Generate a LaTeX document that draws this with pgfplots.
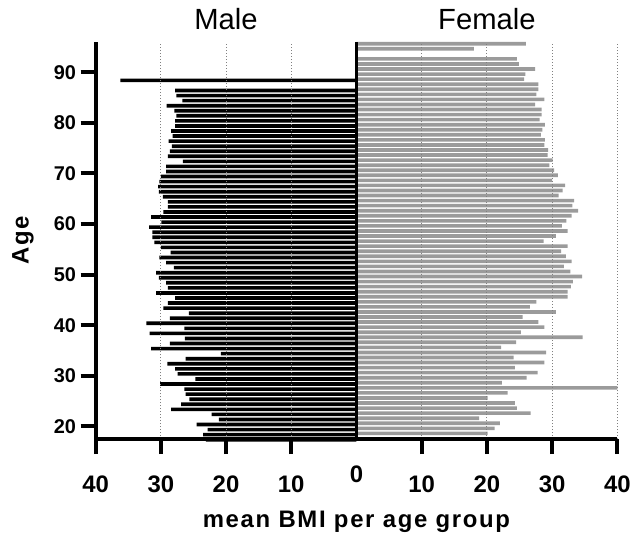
\documentclass[border=0pt]{standalone}
\usepackage{fontspec}
\setmainfont{Liberation Sans}
\usepackage{pgfplots}
\pgfplotsset{compat=1.18}
\usepackage{pgfplotstable}

\definecolor{fem}{RGB}{155,155,155}

% male values are negative so the bars run to the left
\pgfplotstableread{
age bmi
89 -36.2
87 -27.8
86 -27.6
85 -26.7
84 -29.1
83 -27.9
82 -27.6
81 -27.8
80 -27.8
79 -28.4
78 -28.2
77 -28.8
76 -28.3
75 -28.6
74 -28.9
73 -26.6
72 -29.2
71 -29.2
70 -30.0
69 -30.2
68 -30.4
67 -30.3
66 -29.7
65 -28.9
64 -28.9
63 -29.6
62 -31.5
61 -29.9
60 -31.8
59 -31.3
58 -31.3
57 -31.0
56 -30.0
55 -28.5
54 -30.2
53 -29.2
52 -28.0
51 -30.7
50 -30.3
49 -29.2
48 -28.9
47 -30.7
46 -27.8
45 -28.9
44 -29.6
43 -25.7
42 -28.6
41 -32.2
40 -26.4
39 -31.7
38 -26.3
37 -28.6
36 -31.5
35 -20.8
34 -26.2
33 -29.0
32 -27.8
31 -27.4
30 -24.7
29 -30.1
28 -26.4
27 -26.2
26 -25.6
25 -26.9
24 -28.4
23 -22.2
22 -21.1
21 -24.5
20 -22.8
19 -23.5
18 -23.1
}\male

\pgfplotstableread{
age bmi
95 26.0
94 18.0
92 24.6
91 24.9
90 27.4
89 25.9
88 25.7
87 27.9
86 27.9
85 27.6
84 28.8
83 27.4
82 28.4
81 28.4
80 28.1
79 28.9
78 28.5
77 28.3
76 28.9
75 28.8
74 29.4
73 29.3
72 30.1
71 29.6
70 30.3
69 30.9
68 30.0
67 32.0
66 31.6
65 31.0
64 33.4
63 33.1
62 34.0
61 33.0
60 32.2
59 31.5
58 32.4
57 30.6
56 28.7
55 32.4
54 31.4
53 32.1
52 33.0
51 31.8
50 32.8
49 34.6
48 33.2
47 32.9
46 32.4
45 32.4
44 27.6
43 26.6
42 30.6
41 25.5
40 27.9
39 28.8
38 25.2
37 34.7
36 24.5
35 22.2
34 29.1
33 24.1
32 28.8
31 24.3
30 27.8
29 26.1
28 22.3
27 40.0
26 23.2
25 20.1
24 24.3
23 24.6
22 26.7
21 18.8
20 22.0
19 21.2
18 20.1
}\female

\begin{document}
\begin{tikzpicture}
\begin{axis}[
  scale only axis, width=393pt, height=299.25pt,
  xmin=-40, xmax=40, ymin=17.5, ymax=96,
  xbar, bar width=0.72,
  clip=false, axis on top,
  axis x line*=bottom, axis y line*=left,
  axis line style={line width=3pt},
  tick align=outside, major tick length=11.25pt,
  major tick style={line width=3pt, black},
  xtick={-40,-30,-20,-10,10,20,30,40},
  xticklabels={40,30,20,10,10,20,30,40},
  extra x ticks={0}, extra x tick labels={0},
  extra x tick style={major tick length=0pt,
    grid style={solid, black, line width=2.6pt},
    tick label style={yshift=-3.75pt}},
  ytick={20,30,...,90},
  xmajorgrids,
  grid style={gray, line width=0.75pt, dash pattern=on 0.75pt off 1.5pt},
  /pgf/number format/assume math mode=true,
  yticklabel style={font=\bfseries\fontsize{15}{15}\selectfont},
  xticklabel style={font=\bfseries\fontsize{18}{18}\selectfont, yshift=-13pt},
  xlabel={mean BMI per age group},
  ylabel={Age},
  label style={font=\bfseries\fontsize{18}{18}\selectfont\addfontfeature{LetterSpace=7}},
  xlabel style={at={(axis description cs:0.5,-0.207)}, anchor=center},
  ylabel style={at={(axis description cs:-0.139,0.5)}, anchor=center},
]
\addplot[fill=black, draw=none] table[x=bmi, y=age] {\male};
\addplot[fill=fem, draw=none] table[x=bmi, y=age] {\female};
\node[anchor=base, yshift=9pt, font=\fontsize{22}{22}\selectfont] at (axis cs:-20,96) {Male};
\node[anchor=base, yshift=9pt, font=\fontsize{22}{22}\selectfont] at (axis cs:20,96) {Female};
\end{axis}
\path (current axis.south west) ++(-72pt,-71.25pt) rectangle ++(476.25pt,402pt);
\end{tikzpicture}
\end{document}
